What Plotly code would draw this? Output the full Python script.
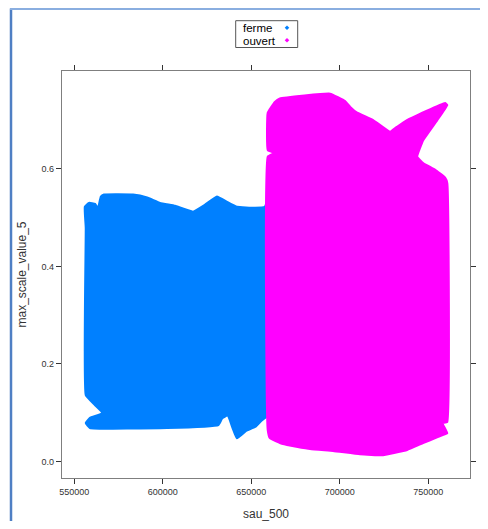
import plotly.graph_objects as go

# ---- data: outline of the dense point clouds ----
groups = ["ferme", "ouvert"]
colors = ["#0080ff", "#ff00ff"]

ferme_x = [556600, 556050, 558300, 561700, 563400, 565100, 566800, 583200, 591100,
           598400, 606900, 617100, 623800, 630600, 636300, 641900, 652100, 657700,
           659400, 659400, 656000, 652100, 647000, 641900, 639600, 636800, 633500,
           631300, 602400, 558900, 556600, 558900, 566200, 561700, 556600]
ferme_y = [0.479, 0.522, 0.530, 0.528, 0.518, 0.543, 0.547, 0.547, 0.541,
           0.530, 0.524, 0.512, 0.526, 0.543, 0.532, 0.522, 0.520, 0.522,
           0.536, 0.095, 0.085, 0.071, 0.063, 0.048, 0.068, 0.095, 0.089,
           0.075, 0.069, 0.069, 0.079, 0.089, 0.099, 0.116, 0.136]

ouvert_x = [659400, 663400, 666200, 694500, 702900, 705800, 709700, 718800, 728400,
            732300, 738000, 759400, 760600, 754900, 747000, 743600, 747000, 753800,
            759400, 760600, 760600, 757800, 760600, 754900, 747000, 738000, 724400,
            711400, 696200, 683200, 667900, 660600, 659400, 659400, 663400, 659400]
ouvert_y = [0.715, 0.737, 0.744, 0.754, 0.739, 0.727, 0.715, 0.700, 0.676,
            0.686, 0.700, 0.735, 0.731, 0.700, 0.659, 0.625, 0.612, 0.598,
            0.582, 0.571, 0.081, 0.079, 0.058, 0.050, 0.038, 0.024, 0.013,
            0.015, 0.022, 0.026, 0.036, 0.048, 0.065, 0.625, 0.633, 0.639]

x_ticks = [550000, 600000, 650000, 700000, 750000]
y_ticks = [0.0, 0.2, 0.4, 0.6]
x_title = "sau_500"
y_title = "max_scale_value_5"

# ---- figure ----
OFF = 8  # page body margin of the browser
W, H = 488 - 2 * OFF, 529 - 2 * OFF
L, R, T, B = 62, 470, 71, 478  # panel box in window pixels
pw, ph = R - L, B - T

def px(xp):
    return (xp - L) / pw

def py(yp):
    return (B - yp) / ph

fig = go.Figure()
for name, col, xs, ys in [(groups[0], colors[0], ferme_x, ferme_y),
                          (groups[1], colors[1], ouvert_x, ouvert_y)]:
    fig.add_trace(go.Scatter(x=xs + xs[:1], y=ys + ys[:1], mode="lines",
                             fill="toself", fillcolor=col,
                             line=dict(color=col, width=2.5, shape="spline", smoothing=0.3),
                             name=name, showlegend=False, hoverinfo="skip"))

axis_common = dict(showline=True, linecolor="#7f7f7f", linewidth=1.3, mirror="allticks",
                   ticks="outside", ticklen=5, tickcolor="#333333", tickwidth=1,
                   showgrid=False, zeroline=False, automargin=False,
                   tickfont=dict(family="Liberation Sans, Arial", size=9, color="#333333"),
                   title_font=dict(family="Liberation Sans, Arial", size=12, color="#333333"))

fig.update_xaxes(range=[543050, 773560], tickvals=x_ticks,
                 ticktext=[str(v) for v in x_ticks], title_text=x_title,
                 title_standoff=18, **axis_common)
fig.update_yaxes(range=[-0.034, 0.801], tickvals=y_ticks,
                 ticktext=["%.1f" % v for v in y_ticks], title_text=y_title,
                 title_standoff=12, **axis_common)

shapes = []
annotations = []
# legend box
shapes.append(dict(type="rect", xref="paper", yref="paper",
                   x0=px(235.7), x1=px(297.7), y0=py(47.5), y1=py(20.7),
                   line=dict(color="#555555", width=1), fillcolor="white"))
for i, (name, col) in enumerate(zip(groups, colors)):
    yc = [28.2, 40.6][i]
    annotations.append(dict(text=name, xref="paper", yref="paper", x=px(241), y=py(yc),
                            xanchor="left", yanchor="middle", showarrow=False,
                            font=dict(family="Liberation Sans, Arial", size=11.5, color="#000000")))
    mx, my, r = 287, [27.8, 40.3][i], 2.3
    path = "M {} {} L {} {} L {} {} L {} {} Z".format(
        px(mx), py(my - r), px(mx + r), py(my), px(mx), py(my + r), px(mx - r), py(my))
    shapes.append(dict(type="path", xref="paper", yref="paper", path=path,
                       fillcolor=col, line=dict(color=col, width=0)))

# outer window frame
shapes.append(dict(type="line", xref="paper", yref="paper",
                   x0=px(11), x1=px(11), y0=py(8.5), y1=py(535),
                   line=dict(color="#4f7fc4", width=2.5)))
shapes.append(dict(type="line", xref="paper", yref="paper",
                   x0=px(10), x1=px(495), y0=py(9), y1=py(9),
                   line=dict(color="#8aaee0", width=2)))

fig.update_layout(width=W, height=H,
                  margin=dict(l=L - OFF, r=W + OFF - R, t=T - OFF, b=H + OFF - B),
                  paper_bgcolor="white", plot_bgcolor="white",
                  shapes=shapes, annotations=annotations, showlegend=False,
                  font=dict(family="Liberation Sans, Arial"))

fig.write_html("out.html")
